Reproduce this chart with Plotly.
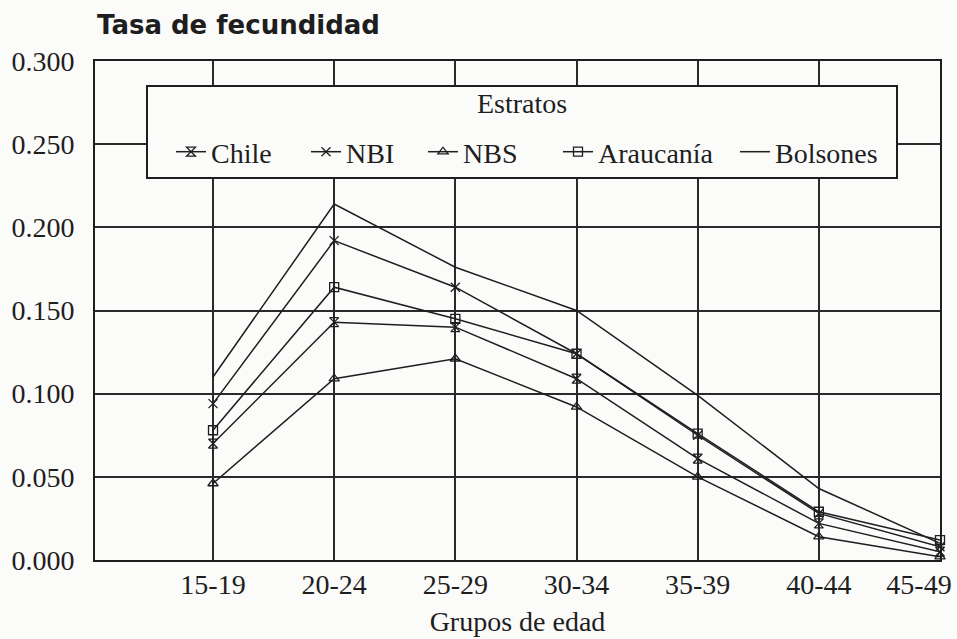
import plotly.graph_objects as go

# ---- data ----
grupos = ["15-19", "20-24", "25-29", "30-34", "35-39", "40-44", "45-49"]
chile = [0.070, 0.143, 0.140, 0.109, 0.061, 0.022, 0.005]
nbi = [0.094, 0.192, 0.164, 0.124, 0.075, 0.028, 0.008]
nbs = [0.046, 0.109, 0.121, 0.092, 0.050, 0.014, 0.002]
araucania = [0.078, 0.164, 0.145, 0.124, 0.076, 0.029, 0.012]
bolsones = [0.110, 0.214, 0.176, 0.150, 0.099, 0.043, 0.010]
series_names = ["Chile", "NBI", "NBS", "Araucanía", "Bolsones"]
y_ticks = [0.0, 0.05, 0.10, 0.15, 0.20, 0.25, 0.30]
y_ticktext = ["0.000", "0.050", "0.100", "0.150", "0.200", "0.250", "0.300"]

# ---- layout geometry (page pixels) ----
W, H = 957, 639
PLOT_L, PLOT_R, PLOT_T, PLOT_B = 95, 940, 61, 560  # plot area
L, T = PLOT_L, PLOT_T
R, B = W - PLOT_R, H - PLOT_B
PW, PH = W - L - R, H - T - B


def fx(p):
    return (p - L) / PW


def fy(p):
    return (H - B - p) / PH


INK = "#1e1e1e"
BG = "#fbfbfa"
SERIF = "Liberation Serif, Times New Roman, serif"

symbols = ["hourglass-open", "x-thin-open", "triangle-up-open", "square-open", None]
values = [chile, nbi, nbs, araucania, bolsones]
legend_ids = ["legend", "legend2", "legend3", "legend4", "legend5"]
legend_text_x = [213, 348, 465, 600, 777]

# last x tick label is pulled left (as in the original) with trailing no-break spaces
x_ticktext = grupos[:-1] + [grupos[-1] + "\u00a0" * 6]

fig = go.Figure()
for name, vals, sym, lid in zip(series_names, values, symbols, legend_ids):
    mode = "lines+markers" if sym else "lines"
    marker = dict(symbol=sym, size=9, color=INK, line=dict(color=INK, width=1.3)) if sym else None
    fig.add_trace(go.Scatter(
        x=grupos, y=vals, name=name, mode=mode,
        line=dict(color=INK, width=1.5),
        marker=marker, cliponaxis=False, legend=lid,
    ))

layout_legends = {}
for lid, tx in zip(legend_ids, legend_text_x):
    layout_legends[lid] = dict(
        x=fx(tx - 42), xanchor="left", y=fy(152), yanchor="middle",
        orientation="h", bgcolor="rgba(0,0,0,0)", borderwidth=0,
        font=dict(family=SERIF, size=28, color=INK),
    )

fig.update_layout(
    width=W, height=H,
    margin=dict(l=L, r=R, t=T, b=B, autoexpand=False),
    paper_bgcolor=BG, plot_bgcolor=BG,
    showlegend=True,
    title=dict(text="<b>Tasa de fecundidad</b>", x=97 / W, xref="container", xanchor="left",
               y=1 - 25 / H, yref="container", yanchor="middle",
               font=dict(family="DejaVu Sans, Arial, sans-serif", size=26, color=INK)),
    xaxis=dict(
        type="category", range=[-0.974, 6], showgrid=True, gridcolor="#2a2a2a", gridwidth=1.5,
        showline=True, linecolor=INK, linewidth=2, mirror=True, ticks="",
        tickvals=grupos, ticktext=x_ticktext,
        ticklabelstandoff=-2, automargin=False,
        tickfont=dict(family=SERIF, size=28, color=INK),
        title=dict(text="Grupos de edad", font=dict(family=SERIF, size=28, color=INK), standoff=13),
        zeroline=False,
    ),
    yaxis=dict(
        range=[0, 0.3], tickvals=y_ticks, ticktext=y_ticktext, showgrid=True,
        gridcolor="#2a2a2a", gridwidth=1.5, showline=True, linecolor=INK, linewidth=2,
        mirror=True, ticks="", ticklabelstandoff=13, automargin=False,
        tickfont=dict(family=SERIF, size=28, color=INK), zeroline=False,
    ),
    shapes=[dict(type="rect", xref="paper", yref="paper",
                 x0=fx(147), x1=fx(897), y0=fy(178), y1=fy(86),
                 fillcolor=BG, line=dict(color=INK, width=2), layer="above")],
    annotations=[dict(text="Estratos", xref="paper", yref="paper", x=fx(522), y=fy(104),
                      xanchor="center", yanchor="middle", showarrow=False,
                      font=dict(family=SERIF, size=28, color=INK))],
    **layout_legends,
)

fig.write_html(
    "out.html",
    config={"displayModeBar": False},
    post_script="document.body.style.margin='0';document.body.style.overflow='hidden';",
)
